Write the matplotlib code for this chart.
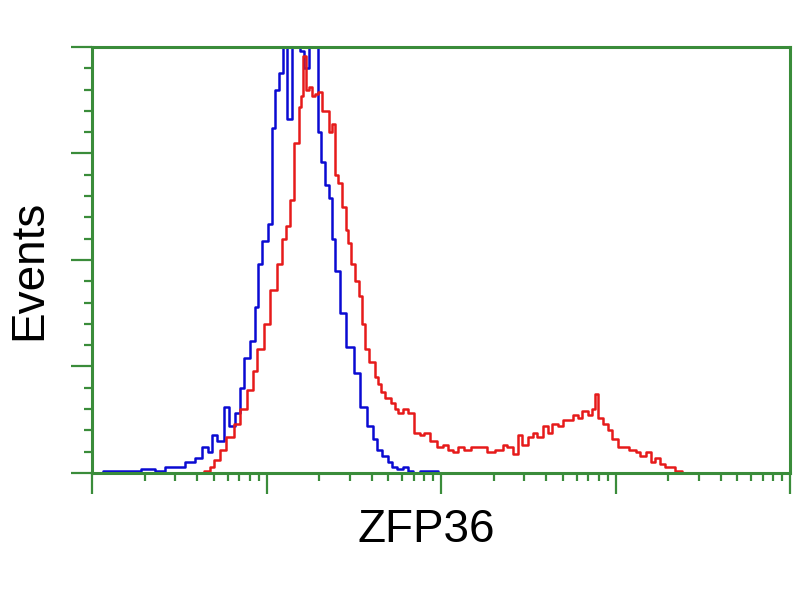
# -*- coding: utf-8 -*-

import matplotlib
matplotlib.use('Agg')
import matplotlib.pyplot as plt
import matplotlib.ticker as ticker
import numpy as np

# flow histogram, 1024 channels over 4 log decades
blue_ch = [4, 26, 56, 85, 100, 114, 129, 144, 158, 166, 173, 180, 188, 198, 205,
           213, 220, 227, 235, 242, 246, 254, 261, 266, 271, 277, 283, 290, 296,
           302, 308, 315, 323, 329, 333, 339, 345, 349, 355, 359, 368, 378, 389,
           398, 408, 415, 422, 430, 437, 444, 452, 459, 467, 474, 489, 503, 511]
blue_cnt = [0, 1, 1, 2, 1, 3, 3, 5, 7, 12, 10, 18, 15, 31, 22,
            28, 40, 54, 62, 78, 98, 109, 117, 162, 180, 188, 210, 166, 210,
            205, 198, 190, 210, 210, 160, 146, 135, 129, 110, 95, 75, 59, 47,
            31, 22, 16, 11, 8, 5, 3, 2, 3, 1, 0, 1, 1, 0]

red_ch = [158, 169, 176, 183, 192, 202, 213, 222, 232, 239, 246, 257, 266, 276,
          282, 288, 293, 301, 305, 308, 312, 317, 320, 324, 330, 334, 340,
          345, 349, 354, 359, 364, 370, 374, 378, 383, 389, 393, 399, 403, 411,
          418, 422, 427, 434, 442, 447, 452, 459, 467, 477, 484, 491, 500, 511,
          518, 525, 533, 540, 550, 562, 574, 584, 599, 606, 613, 621, 628, 635,
          643, 650, 657, 665, 672, 679, 687, 694, 701, 709, 716, 723, 731, 736,
          741, 745, 753, 760, 767, 775, 782, 794, 801, 808, 816, 823, 830, 836,
          844, 851, 860, 870]
red_cnt = [0, 1, 3, 6, 11, 17, 23, 30, 39, 48, 58, 70, 86, 98,
           110, 116, 128, 155, 172, 177, 196, 180, 181, 177, 178, 179, 170,
           170, 160, 164, 140, 136, 125, 114, 108, 98, 90, 83, 70, 58, 52,
           45, 42, 38, 35, 33, 30, 28, 30, 28, 19, 18, 19, 15, 12,
           13, 11, 10, 12, 11, 12, 12, 10, 11, 13, 12, 9, 18, 13,
           17, 19, 17, 22, 19, 23, 22, 25, 25, 27, 26, 29, 27, 30,
           37, 26, 23, 20, 16, 12, 12, 11, 10, 8, 10, 5, 7, 4,
           3, 3, 1, 0]

x_label = 'ZFP36'
y_label = 'Events'


def main():
    green = '#3a8c3a'
    col_blue = '#0a0ad2'
    col_red = '#e61a1a'

    fig = plt.figure(figsize=(8, 6), facecolor='w', dpi=100)
    ax = fig.add_axes([0.115, 0.2117, 0.8725, 0.71])

    xb = 10 ** (np.array(blue_ch) / 256.0)
    xr = 10 ** (np.array(red_ch) / 256.0)
    ax.plot(xb, blue_cnt, drawstyle='steps-mid', color=col_blue, lw=1.8)
    ax.plot(xr, red_cnt, drawstyle='steps-mid', color=col_red, lw=1.8)

    ax.set_xscale('log')
    ax.set_xlim(1, 1e4)
    ax.set_ylim(0, 200)
    ax.xaxis.set_major_locator(ticker.LogLocator(base=10, numticks=10))
    ax.xaxis.set_minor_locator(ticker.LogLocator(base=10, subs=np.arange(2, 10), numticks=20))
    ax.yaxis.set_major_locator(ticker.MultipleLocator(50))
    ax.yaxis.set_minor_locator(ticker.MultipleLocator(10))
    ax.xaxis.set_major_formatter(ticker.NullFormatter())
    ax.xaxis.set_minor_formatter(ticker.NullFormatter())
    ax.yaxis.set_major_formatter(ticker.NullFormatter())

    for sp in ax.spines.values():
        sp.set_color(green)
        sp.set_linewidth(2.2)
    ax.tick_params(which='major', direction='out', length=15, width=1.6, color=green)
    ax.tick_params(which='minor', direction='out', length=6, width=1.6, color=green)
    ax.tick_params(top=False, right=False, which='both')

    fig.text(0.5325, 0.117, x_label, fontsize=33, family='Liberation Sans',
             ha='center', va='center')
    fig.text(0.036, 0.55, y_label, fontsize=33, family='Liberation Sans',
             ha='center', va='center', rotation=90)

    fig.savefig('out.png', dpi=100, facecolor='w')


if __name__ == '__main__':
    main()
